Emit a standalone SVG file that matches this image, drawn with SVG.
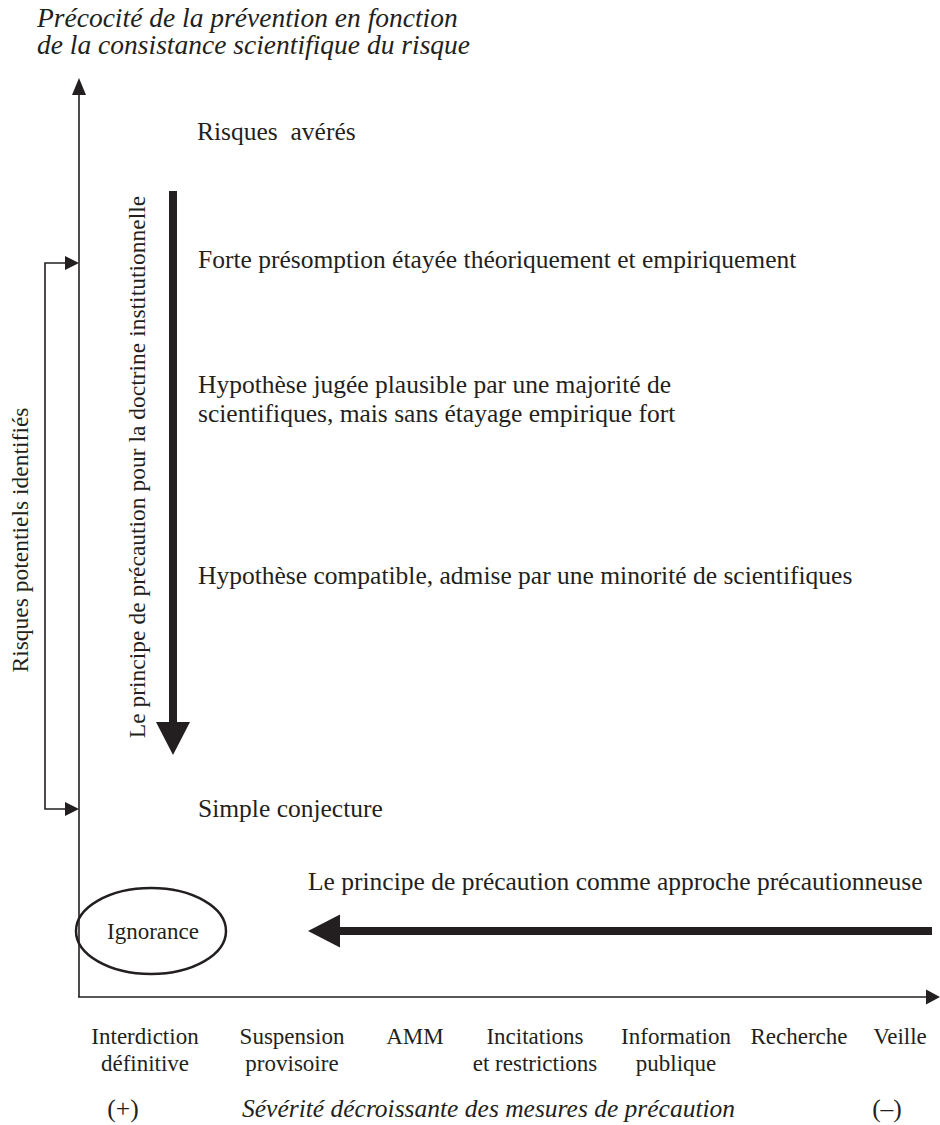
<svg xmlns="http://www.w3.org/2000/svg" width="940" height="1125" viewBox="0 0 940 1125">
  <style>
    text { font-family: "Liberation Serif", "Times New Roman", serif; fill: #231f20; }
    .body { font-size: 25.5px; }
    .it { font-style: italic; }
    .title { font-size: 27.5px; font-style: italic; }
    .axlab { font-size: 23px; text-anchor: middle; }
    .side { font-size: 23.5px; text-anchor: middle; }
    .thin { stroke: #231f20; stroke-width: 1.6; fill: none; }
    .thick { stroke: #231f20; stroke-width: 8; fill: none; }
    .head { fill: #231f20; stroke: none; }
  </style>

  <!-- axes, bracket and the two thick arrows -->
  <g id="connectors">
    <!-- vertical axis -->
    <line class="thin" x1="79" y1="92" x2="79" y2="997"/>
    <polygon class="head" points="79,78 72,95 86,95"/>
    <!-- horizontal axis -->
    <line class="thin" x1="78" y1="997" x2="928" y2="997"/>
    <polygon class="head" points="940,997 926,989.5 926,1004.5"/>
    <!-- bracket for identified potential risks -->
    <polyline class="thin" points="65,263 45,263 45,809 65,809"/>
    <polygon class="head" points="79,263 65,256 65,270"/>
    <polygon class="head" points="79,809 65,802 65,816"/>
    <!-- institutional doctrine arrow (downwards) -->
    <line class="thick" x1="173" y1="191" x2="173" y2="724"/>
    <polygon class="head" points="156,722 190,722 173,755"/>
    <!-- precautionary approach arrow (leftwards) -->
    <line class="thick" x1="336" y1="931" x2="932" y2="931"/>
    <polygon class="head" points="308,931 340,914.5 340,947.5"/>
  </g>

  <g id="title">
    <text class="title" x="37" y="27">Précocité de la prévention en fonction</text>
    <text class="title" x="37" y="54">de la consistance scientifique du risque</text>
  </g>

  <g id="risques-averes">
    <text class="body" x="197" y="140" xml:space="preserve">Risques  avérés</text>
  </g>

  <g id="forte-presomption">
    <text class="body" x="198" y="268">Forte présomption étayée théoriquement et empiriquement</text>
  </g>

  <g id="hypothese-plausible">
    <text class="body" x="198" y="393">Hypothèse jugée plausible par une majorité de</text>
    <text class="body" x="198" y="422">scientifiques, mais sans étayage empirique fort</text>
  </g>

  <g id="hypothese-compatible">
    <text class="body" x="198" y="584">Hypothèse compatible, admise par une minorité de scientifiques</text>
  </g>

  <g id="simple-conjecture">
    <text class="body" x="198" y="817">Simple conjecture</text>
  </g>

  <g id="doctrine-label">
    <text class="side" transform="translate(145,467) rotate(-90)">Le principe de précaution pour la doctrine institutionnelle</text>
  </g>

  <g id="potentiels-label">
    <text class="side" transform="translate(28,540) rotate(-90)">Risques potentiels identifiés</text>
  </g>

  <g id="approche-label">
    <text class="body" x="308" y="890">Le principe de précaution comme approche précautionneuse</text>
  </g>

  <g id="ignorance">
    <ellipse cx="151" cy="931" rx="75" ry="43" fill="none" stroke="#231f20" stroke-width="2.5"/>
    <text x="153" y="939" style="font-size:23px; text-anchor:middle">Ignorance</text>
  </g>

  <g id="mesures">
    <text class="axlab" x="145" y="1044">Interdiction</text>
    <text class="axlab" x="145" y="1071">définitive</text>
    <text class="axlab" x="292" y="1044">Suspension</text>
    <text class="axlab" x="292" y="1071">provisoire</text>
    <text class="axlab" x="415" y="1044">AMM</text>
    <text class="axlab" x="535" y="1044">Incitations</text>
    <text class="axlab" x="535" y="1071">et restrictions</text>
    <text class="axlab" x="676" y="1044">Information</text>
    <text class="axlab" x="676" y="1071">publique</text>
    <text class="axlab" x="799" y="1044">Recherche</text>
    <text class="axlab" x="900" y="1044">Veille</text>
  </g>

  <g id="severite">
    <text class="body" x="123" y="1117" style="text-anchor:middle">(+)</text>
    <text class="body it" x="242" y="1117">Sévérité décroissante des mesures de précaution</text>
    <text class="body" x="887" y="1117" style="text-anchor:middle">(–)</text>
  </g>
</svg>
